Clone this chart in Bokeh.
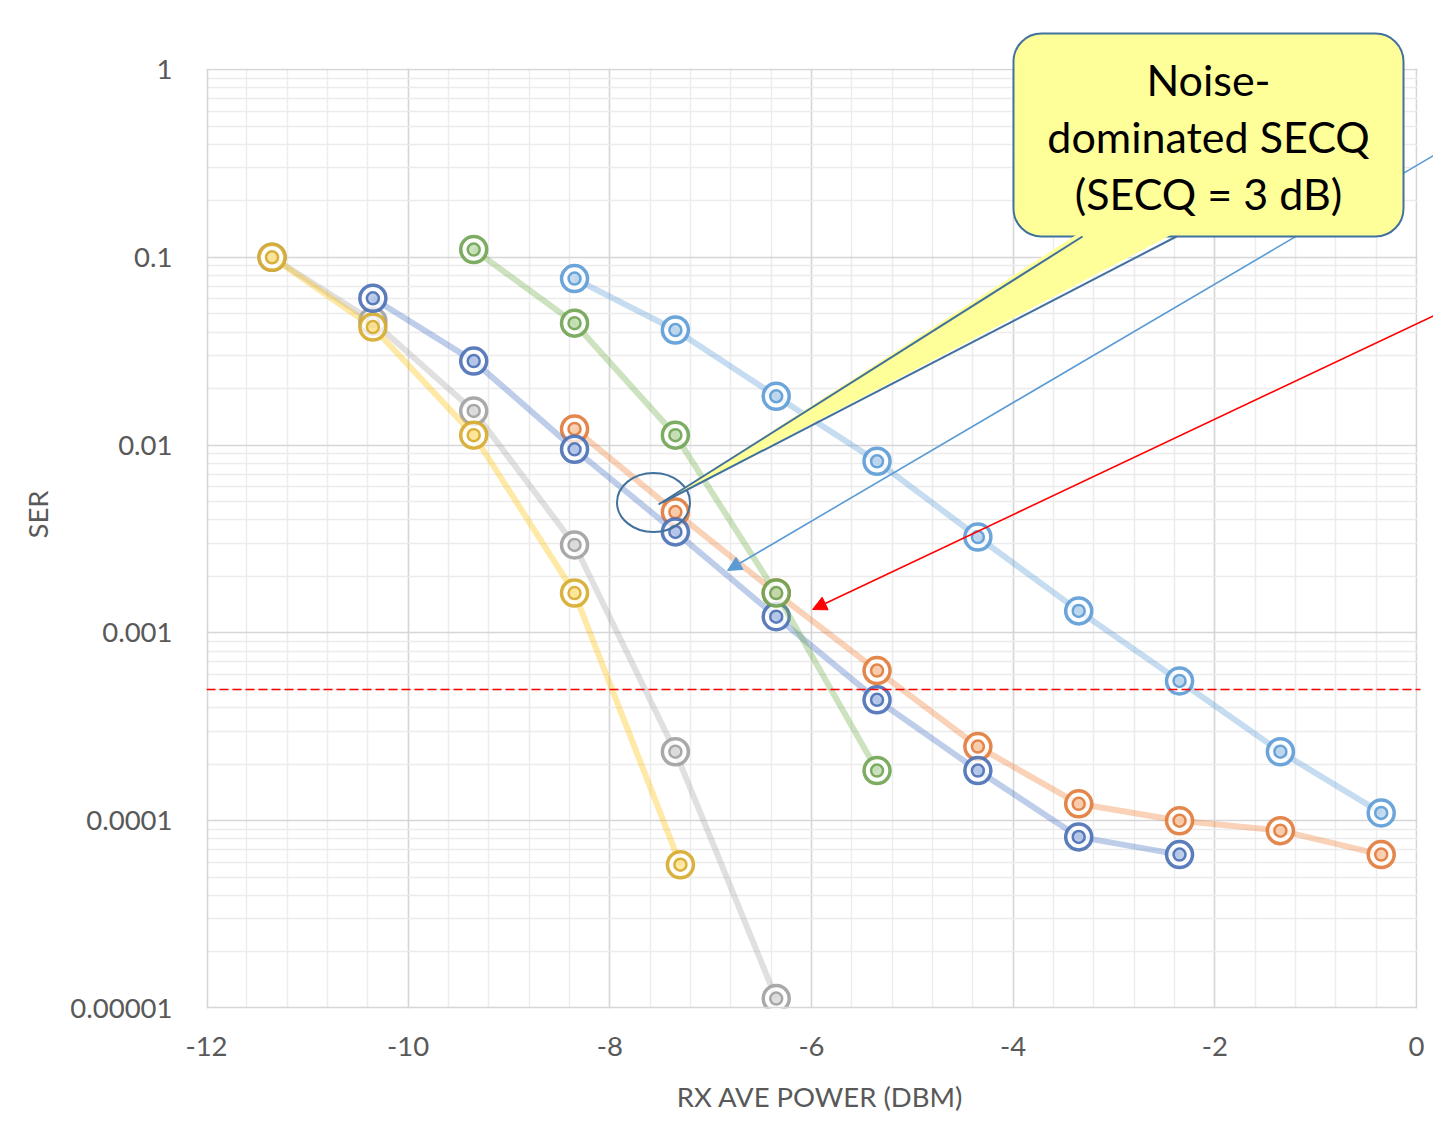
from bokeh.plotting import figure
from bokeh.models import (FixedTicker, CustomJSTickFormatter, Arrow, NormalHead,
                          BoxAnnotation, PolyAnnotation, Label, Span)
from bokeh.embed import file_html
from bokeh.resources import INLINE

# ---------------- data ----------------
x_ticks = [-12, -10, -8, -6, -4, -2, 0]
x_tick_labels = ["-12", "-10", "-8", "-6", "-4", "-2", "0"]
x_minor = [round(-12 + 0.4 * k, 2) for k in range(31)]
y_ticks = [1e-5, 1e-4, 1e-3, 1e-2, 1e-1, 1]
y_tick_labels = ["0.00001", "0.0001", "0.001", "0.01", "0.1", "1"]
y_minor = [m * 10.0 ** d for d in range(-5, 0) for m in range(2, 10)]

lightblue_x = [-8.35, -7.35, -6.35, -5.35, -4.35, -3.35, -2.35, -1.35, -0.35]
lightblue_y = [0.077, 0.041, 0.0182, 0.0082, 0.00324, 0.00131, 0.000555, 0.000233, 0.000110]

orange_x = [-8.35, -7.35, -6.35, -5.35, -4.35, -3.35, -2.35, -1.35, -0.35]
orange_y = [0.0122, 0.0044, 0.00163, 0.00063, 0.000248, 0.000123, 0.0001, 0.0000885, 0.000066]

gray_x = [-11.35, -10.35, -9.35, -8.35, -7.35, -6.35]
gray_y = [0.1, 0.0457, 0.0152, 0.00294, 0.000233, 0.0000113]

yellow_x = [-11.35, -10.35, -9.35, -8.35, -7.3]
yellow_y = [0.1, 0.0425, 0.0113, 0.00163, 0.0000583]

darkblue_x = [-10.35, -9.35, -8.35, -7.35, -6.35, -5.35, -4.35, -3.35, -2.35]
darkblue_y = [0.0605, 0.028, 0.0095, 0.00345, 0.00122, 0.00044, 0.000185, 0.000082, 0.000066]

green_x = [-9.35, -8.35, -7.35, -6.35, -5.35]
green_y = [0.11, 0.0446, 0.0113, 0.00163, 0.000185]

ser_target = 5e-4

series = [
    (lightblue_x, lightblue_y, "#5B9BD5", "#5B9BD5"),
    (orange_x, orange_y, "#ED7D31", "#E07A3A"),
    (gray_x, gray_y, "#A5A5A5", "#A0A0A0"),
    (yellow_x, yellow_y, "#FFC000", "#D6AA2A"),
    (darkblue_x, darkblue_y, "#4472C4", "#4A6FB5"),
    (green_x, green_y, "#70AD47", "#6FA352"),
]

FONT = "Lato"
GRAY_TXT = "#595959"
GRID_MAJOR = "#d6d6d6"
GRID_MINOR = "#ececec"

# plot-area placement (page pixels) used for annotation placement
FL, FR, FT, FB = 206, 1416, 69, 1008
CANVAS_W, CANVAS_H = 1433, 1138
TOP = 20  # frame extends above the plot area so the callout is not clipped


def ax(px):
    return -12 + (px - FL) * 12.0 / (FR - FL)


def ay(py):
    return 10 ** (-(py - FT) * 5.0 / (FB - FT))


p = figure(width=CANVAS_W, height=CANVAS_H,
           frame_width=CANVAS_W - FL, frame_height=FB - TOP,
           min_border_left=FL, min_border_top=TOP, min_border_right=0,
           min_border_bottom=CANVAS_H - FB,
           x_range=(-12, ax(CANVAS_W)), y_range=(1e-5, ay(TOP)), y_axis_type="log",
           output_backend="svg", toolbar_location=None,
           background_fill_color="white", border_fill_color="white")
p.outline_line_color = None

# axes
p.xaxis.ticker = FixedTicker(ticks=x_ticks, minor_ticks=x_minor)
p.xaxis.formatter = CustomJSTickFormatter(
    args=dict(tvals=x_ticks, tlabels=x_tick_labels),
    code="""
    for (let i = 0; i < tvals.length; i++) {
        if (Math.abs(tvals[i] - tick) < 1e-6) return tlabels[i];
    }
    return '';
    """)
p.yaxis.ticker = FixedTicker(ticks=y_ticks, minor_ticks=y_minor)
p.yaxis.formatter = CustomJSTickFormatter(
    args=dict(tvals=y_ticks, tlabels=y_tick_labels),
    code="""
    for (let i = 0; i < tvals.length; i++) {
        if (Math.abs(Math.log10(tvals[i]) - Math.log10(tick)) < 1e-6) return tlabels[i];
    }
    return '';
    """)
for a in (p.xaxis[0], p.yaxis[0]):
    a.axis_line_color = None
    a.major_tick_line_color = None
    a.minor_tick_line_color = None
    a.major_label_text_font = FONT
    a.major_label_text_font_size = "27.5px"
    a.major_label_text_color = GRAY_TXT
    a.axis_label_text_font = FONT
    a.axis_label_text_font_size = "27.5px"
    a.axis_label_text_color = GRAY_TXT
    a.axis_label_text_font_style = "normal"
p.xaxis.axis_label = "RX AVE POWER (DBM)"
p.yaxis.axis_label = "SER"
p.xaxis.major_label_standoff = 22
p.xaxis.axis_label_standoff = 21
p.yaxis.major_label_standoff = 28
p.yaxis.axis_label_standoff = 13

p.xgrid.grid_line_color = GRID_MAJOR
p.xgrid.grid_line_width = 1.5
p.xgrid.minor_grid_line_color = GRID_MINOR
p.xgrid.minor_grid_line_width = 1.5
p.ygrid.grid_line_color = GRID_MAJOR
p.ygrid.grid_line_width = 1.5
p.ygrid.minor_grid_line_color = GRID_MINOR
p.ygrid.minor_grid_line_width = 1.5

# blank out grid outside the plot area (above 1 and right of 0)
p.add_layout(BoxAnnotation(left=ax(100), right=ax(1600), top=ay(0), bottom=ay(FT - 1),
                           fill_color="white", fill_alpha=1, line_color=None))
p.add_layout(BoxAnnotation(left=ax(FR + 1), right=ax(1600), top=ay(0), bottom=ay(1100),
                           fill_color="white", fill_alpha=1, line_color=None))

# plot-area border strips on the left and bottom edges
p.add_layout(BoxAnnotation(left=x_ticks[0], right=ax(FL + 1.8), bottom=y_ticks[0],
                           top=y_ticks[-1], fill_color=GRID_MAJOR, fill_alpha=1,
                           line_color=None))
p.add_layout(BoxAnnotation(left=x_ticks[0], right=x_ticks[-1], bottom=y_ticks[0],
                           top=ay(FB - 1.8), fill_color=GRID_MAJOR, fill_alpha=1,
                           line_color=None))

# threshold
p.add_layout(Span(location=ser_target, dimension="width", line_color="#FF0000",
                  line_width=1.5, line_dash="9 4"))
p.add_layout(BoxAnnotation(left=ax(FR + 4), right=ax(1600), top=ay(FT), bottom=ay(FB),
                           fill_color="white", fill_alpha=1, line_color=None))

# series
for xs, ys, lc, mc in series:
    p.line(xs, ys, line_color=lc, line_width=6, line_alpha=0.35)
    p.scatter(xs, ys, size=26, line_color=mc, line_width=3.5, line_alpha=0.9,
              fill_color="white", fill_alpha=0.75)
    p.scatter(xs, ys, size=12, line_color=mc, line_width=2.5, line_alpha=0.9,
              fill_color=lc, fill_alpha=0.35)

# ellipse highlight
p.ellipse(x=[ax(653)], y=[ay(502)], width=73, height=59, width_units="screen",
          height_units="screen", fill_color=None, line_color="#41719C", line_width=2)

# arrows
p.add_layout(Arrow(end=NormalHead(size=14, fill_color="#5B9BD5", line_color="#5B9BD5"),
                   x_start=ax(1440), y_start=ay(151), x_end=ax(727), y_end=ay(570),
                   line_color="#5B9BD5", line_width=1.6))
p.add_layout(Arrow(end=NormalHead(size=14, fill_color="#FF0000", line_color="#FF0000"),
                   x_start=ax(1440), y_start=ay(312), x_end=ax(812), y_end=ay(609),
                   line_color="#FF0000", line_width=1.6))

# callout
CALLOUT_FILL = "#FFFF99"
CALLOUT_LINE = "#41719C"
p.add_layout(BoxAnnotation(left=ax(1013), right=ax(1403), top=ay(33), bottom=ay(236),
                           fill_color=CALLOUT_FILL, fill_alpha=1, line_color=CALLOUT_LINE,
                           line_alpha=1, line_width=2, border_radius=28))
p.add_layout(PolyAnnotation(xs=[ax(1081), ax(658), ax(1177)], ys=[ay(231), ay(504), ay(231)],
                            fill_color=CALLOUT_FILL, fill_alpha=1, line_color=None))
p.add_layout(Arrow(end=None, x_start=ax(1082), y_start=ay(236), x_end=ax(658), y_end=ay(504),
                   line_color=CALLOUT_LINE, line_width=2))
p.add_layout(Arrow(end=None, x_start=ax(1176), y_start=ay(236), x_end=ax(662), y_end=ay(502),
                   line_color=CALLOUT_LINE, line_width=2))

callout_lines = ["Noise-", "dominated SECQ", "(SECQ = 3 dB)"]
callout_py = [79, 136, 193]
for t, py in zip(callout_lines, callout_py):
    p.add_layout(Label(x=ax(1208), y=ay(py), text=t, text_align="center",
                       text_baseline="middle", text_font=FONT, text_font_size="43px",
                       text_color="black"))

open("out.html", "w").write(file_html(p, INLINE))
